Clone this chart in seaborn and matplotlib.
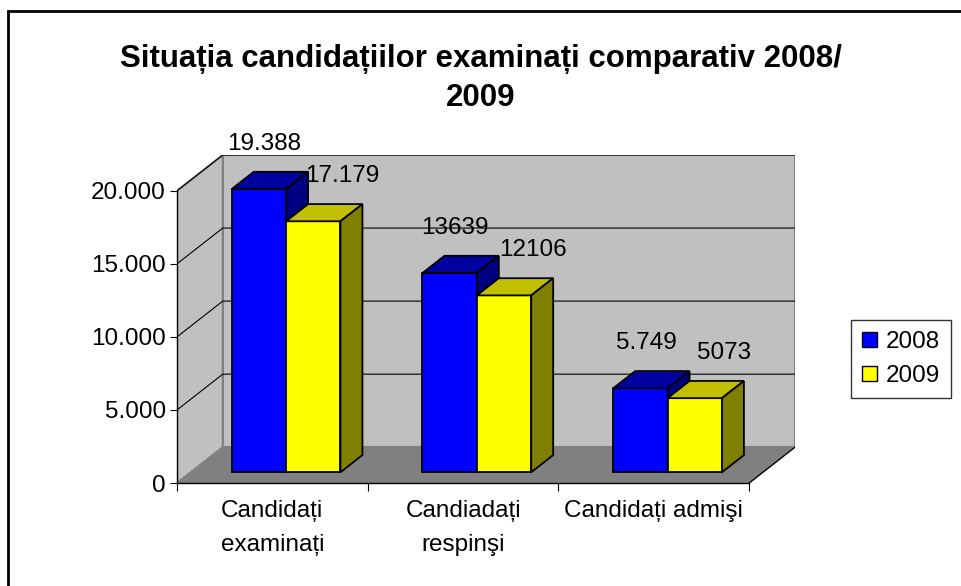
import pandas as pd
import matplotlib.pyplot as plt
import seaborn as sns
from matplotlib.patches import Polygon, Rectangle, Patch
from matplotlib.ticker import FuncFormatter

# --Daten--
kategorien = ["Candidați\nexaminați", "Candiadați\nrespinşi", "Candidați admişi"]
ani = ["2008", "2009"]
valori_2008 = [19388, 13639, 5749]
valori_2009 = [17179, 12106, 5073]
etichete_2008 = ["19.388", "13639", "5.749"]
etichete_2009 = ["17.179", "12106", "5073"]
titlu = "Situația candidațiilor examinați comparativ 2008/\n2009"

# --Aussehen--
culori_fata = {"2008": "#0000FF", "2009": "#FFFF00"}
culori_sus = {"2008": "#0000A0", "2009": "#C0C000"}
culori_lat = {"2008": "#000080", "2009": "#808000"}
eticheta_dx = {"2008": 4, "2009": 21}   # Verschiebung der Beschriftung (Punkte)
adancime_x = 0.24      # Tiefe der Wand (x, Kategorie-Einheiten)
adancime_y = 2450      # Tiefe der Wand (y, Werte)
fata_bara = 0.30       # Vorderkante der Balken (Anteil der Tiefe)
adanc_bara = 0.48      # Tiefe der Balken (Anteil der Tiefe)
y_max = 20000
marime_text = 17.5

daten = pd.DataFrame({
    "categorie": kategorien * 2,
    "an": [ani[0]] * 3 + [ani[1]] * 3,
    "valoare": valori_2008 + valori_2009,
})

sns.set_style("white")
plt.rcParams["font.family"] = ["Liberation Sans", "DejaVu Sans"]
plt.rcParams["text.color"] = "black"
plt.rcParams["xtick.color"] = "black"
plt.rcParams["ytick.color"] = "black"
plt.rcParams["axes.labelcolor"] = "black"

fig = plt.figure(figsize=(9.61, 5.86), dpi=100)
ax = fig.add_axes([177 / 961, (586 - 483) / 586, (795 - 177) / 961, (483 - 155) / 586])

sns.barplot(data=daten, x="categorie", y="valoare", hue="an", order=kategorien,
            hue_order=ani, palette=culori_fata, saturation=1, width=0.57, edgecolor="black",
            linewidth=1.3, ax=ax, legend=False)

x_st, x_dr = -0.5, len(kategorien) - 0.5
ax.set_xlim(x_st, x_dr + adancime_x)
ax.set_ylim(0, y_max + adancime_y)

# Waende und Boden
dx, dy = adancime_x, adancime_y
perete_spate = Polygon([(x_st + dx, dy), (x_dr + dx, dy), (x_dr + dx, y_max + dy), (x_st + dx, y_max + dy)],
                       closed=True, facecolor="#C0C0C0", edgecolor="#808080", lw=1.5, zorder=0)
perete_st = Polygon([(x_st, 0), (x_st + dx, dy), (x_st + dx, y_max + dy), (x_st, y_max)],
                    closed=True, facecolor="#C0C0C0", edgecolor="#808080", lw=1.5, zorder=0)
podea = Polygon([(x_st, 0), (x_dr, 0), (x_dr + dx, dy), (x_st + dx, dy)],
                closed=True, facecolor="#808080", edgecolor="none", zorder=0.5)
for p in (perete_spate, perete_st, podea):
    ax.add_patch(p)
ax.plot([x_dr, x_dr + dx], [0, dy], color="black", lw=1, zorder=0.6)

ticks_y = [0, 5000, 10000, 15000, 20000]
for t in ticks_y[1:]:
    ax.plot([x_st, x_st + dx, x_dr + dx], [t, t + dy, t + dy], color="black", lw=0.8, zorder=0.7)

# 3D-Balken aus den seaborn-Rechtecken
for i, (an, cont) in enumerate(zip(ani, ax.containers)):
    etichete = etichete_2008 if an == "2008" else etichete_2009
    for bar, text in zip(cont.patches, etichete):
        z = 3 + i
        bar.set_x(bar.get_x() + fata_bara * dx)
        bar.set_y(fata_bara * dy)
        bar.set_zorder(z)
        x0 = bar.get_x()
        x1 = x0 + bar.get_width()
        y0 = bar.get_y()
        y1 = y0 + bar.get_height()
        bx, by = adanc_bara * dx, adanc_bara * dy
        sus = Polygon([(x0, y1), (x1, y1), (x1 + bx, y1 + by), (x0 + bx, y1 + by)], closed=True,
                      facecolor=culori_sus[an], edgecolor="black", lw=1.3, zorder=z)
        lat = Polygon([(x1, y0), (x1 + bx, y0 + by), (x1 + bx, y1 + by), (x1, y1)], closed=True,
                      facecolor=culori_lat[an], edgecolor="black", lw=1.3, zorder=z)
        ax.add_patch(sus)
        ax.add_patch(lat)
        ax.annotate(text, ((x0 + x1) / 2, y1 + by), xytext=(eticheta_dx[an], 20),
                    textcoords="offset points", ha="center", va="center",
                    fontsize=marime_text, zorder=10)

# Achsen
for s in ("top", "right"):
    ax.spines[s].set_visible(False)
ax.spines["left"].set_bounds(0, y_max)
ax.spines["bottom"].set_bounds(x_st, x_dr)
for s in ("left", "bottom"):
    ax.spines[s].set_color("black")
    ax.spines[s].set_linewidth(1)
    ax.spines[s].set_zorder(5)
ax.set_yticks(ticks_y)
ax.yaxis.set_major_formatter(FuncFormatter(lambda v, p: f"{int(v):,}".replace(",", ".")))
ax.set_xticks([x_st + k for k in range(len(kategorien) + 1)])
ax.set_xticklabels([])
ax.set_xticks(range(len(kategorien)), minor=True)
ax.set_xticklabels(kategorien, minor=True, fontsize=marime_text, linespacing=1.7)
ax.tick_params(axis="x", which="minor", length=0, pad=12)
ax.tick_params(axis="x", which="major", length=6, direction="out", bottom=True)
ax.tick_params(axis="y", length=5, direction="out", left=True, labelsize=marime_text, pad=3)
ax.set_xlabel("")
ax.set_ylabel("")
ax.patch.set_visible(False)

# Titel, Legende, Rahmen
fig.text(0.5, 1 - 44 / 586, titlu, ha="center", va="top", fontsize=22.5, fontweight="bold",
         linespacing=1.38)
maner = [Patch(facecolor=culori_fata[a], edgecolor="black", label=a) for a in ani]
leg = fig.legend(handles=maner, loc="upper left", bbox_to_anchor=(851 / 961, 1 - 320 / 586),
                 fontsize=marime_text, frameon=True, fancybox=False, handlelength=0.6, handleheight=0.6,
                 handletextpad=0.4, borderpad=0.45, labelspacing=0.5, borderaxespad=0)
leg.get_frame().set_edgecolor("black")
leg.get_frame().set_linewidth(1)
fig.patches.append(Rectangle((8 / 961, -0.1), 1.2, (586 - 11) / 586 + 0.1, transform=fig.transFigure,
                             fill=False, edgecolor="black", lw=2, zorder=20))

fig.savefig("out.png", dpi=100)
